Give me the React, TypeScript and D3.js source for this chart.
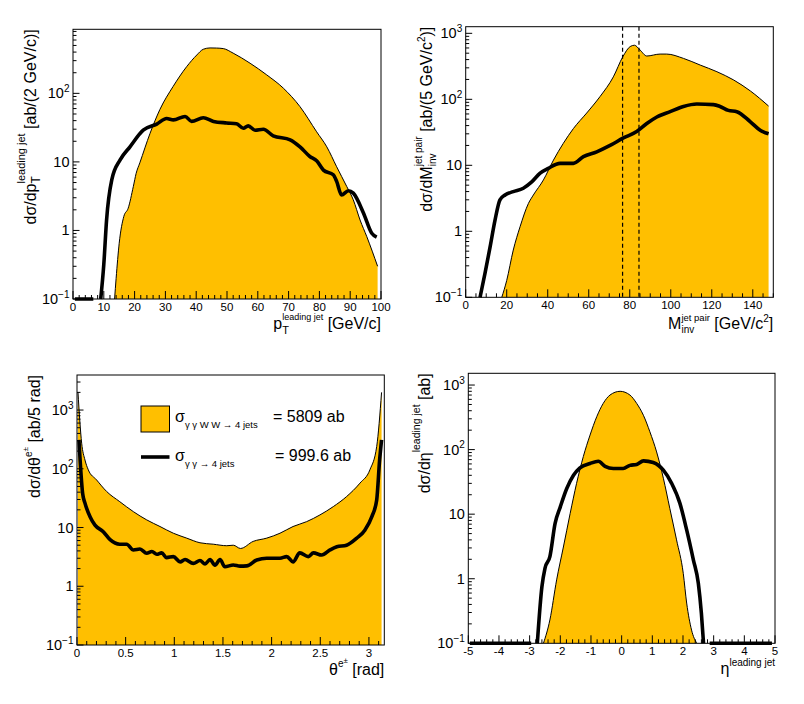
import React, { useEffect, useRef } from "react";
import * as d3 from "d3";

const FONT = "'Liberation Sans', Arial, Helvetica, sans-serif";
const FILL = "#ffbf00";

// ---------- Panel 1: leading jet pT ----------
const ptWWx = [13.5, 14, 15, 16.5, 17.9, 19.6, 20.5, 21.7, 25, 28.2, 32.5, 36.9, 40.2, 42.3, 44.5, 46.6, 48.8, 52, 57.5, 62.9, 68.3, 73.7, 79.1, 82.4, 85.6, 88.9, 91, 93.2, 95.4, 98.9];
const ptWWy = [0.1, 0.2, 0.65, 1.6, 2.1, 4.4, 6.8, 9.7, 26, 58, 126, 245, 363, 440, 460, 458, 450, 386, 275, 186, 119, 64, 27.5, 16.6, 8.5, 4.36, 2.8, 1.42, 0.81, 0.3];
const ptBGx = [0.6, 6.6, 7.7, 9.0, 10.0, 10.9, 12.6, 15.3, 18.5, 22.8, 27.2, 30.4, 32.6, 36.4, 38.5, 42.3, 45.6, 49.9, 53.1, 55.3, 56.9, 59.1, 61.8, 65, 70.5, 73.7, 76.9, 79.1, 81.3, 84.5, 85.6, 87.2, 89.4, 91, 94.3, 97, 98.6];
const ptBGy = [0.1, 0.1, null, 0.1, 0.32, 1.42, 5.5, 10.7, 16.6, 29, 35.6, 43, 41, 46, 39, 44, 39, 37, 36, 31, 33.6, 29, 30, 24, 21, 16.6, 12, 10.4, 7.6, 6.5, 5.2, 3.3, 3.8, 3.5, 1.8, 0.91, 0.8];
const ptXTicks = [0, 10, 20, 30, 40, 50, 60, 70, 80, 90, 100];

// ---------- Panel 2: jet pair invariant mass ----------
const mWWx = [17.6, 20, 23.2, 26.5, 30.6, 33, 37.9, 42.8, 47.6, 52.5, 59, 65.5, 72, 76.6, 80.2, 82.3, 85, 88.3, 94.8, 98, 106.2, 114.4, 122.5, 130.7, 138.8, 147.7];
const mWWy = [0.1, 0.18, 0.52, 1.17, 2.65, 3.55, 6, 12, 21.5, 36, 62, 110, 219, 441, 630, 660, 560, 453, 485, 485, 417, 330, 262, 196, 134, 79];
const mBGx = [7, 9.4, 11.9, 14.3, 16.7, 19.2, 23.2, 28.1, 32.2, 36.3, 40.3, 46, 52.5, 57.4, 63.9, 70.4, 76.9, 83.4, 88.3, 93.2, 99.7, 106.2, 112.7, 120.8, 124, 128.1, 132.2, 138.7, 143.6, 147.7];
const mBGy = [0.1, 0.23, 0.58, 1.48, 3, 3.55, 4, 4.5, 5.6, 7.6, 9, 10.7, 10.7, 13.5, 16, 20, 26, 32.5, 43, 54, 65, 78, 85, 83, 78, 68, 65, 46, 34, 30];
const mXTicks = [0, 20, 40, 60, 80, 100, 120, 140];
const mWindow = [76.5, 84.5];

// ---------- Panel 3: electron polar angle ----------
const thWWx = [0.01, 0.048, 0.082, 0.116, 0.2, 0.305, 0.44, 0.58, 0.716, 0.853, 0.99, 1.127, 1.264, 1.4, 1.539, 1.606, 1.68, 1.81, 1.95, 2.086, 2.22, 2.36, 2.497, 2.634, 2.77, 2.908, 3.01, 3.08, 3.13];
const thWWy = [2000, 273, 141, 96, 65, 41, 27.5, 18.6, 13.5, 10.4, 8, 6.6, 5.5, 5.2, 4.9, 5.0, 4.4, 5.8, 6.6, 8, 10.4, 12.6, 16.4, 22.7, 33.6, 57, 96, 240, 2000];
const thBGx = [0.02, 0.058, 0.082, 0.134, 0.185, 0.27, 0.34, 0.44, 0.51, 0.58, 0.647, 0.716, 0.77, 0.82, 0.87, 0.92, 0.99, 1.06, 1.11, 1.195, 1.264, 1.316, 1.367, 1.418, 1.47, 1.52, 1.606, 1.675, 1.744, 1.847, 1.95, 2.086, 2.155, 2.22, 2.29, 2.377, 2.43, 2.515, 2.6, 2.67, 2.77, 2.875, 2.96, 3.03, 3.08, 3.11, 3.13];
const thBGy = [310, 38, 26, 15.3, 11, 8.5, 6.2, 5.2, 5.2, 4.15, 4.3, 3.65, 3.9, 3.5, 3.7, 3.07, 3.2, 2.6, 2.85, 2.45, 2.75, 2.4, 2.85, 2.28, 2.85, 2.15, 2.3, 2.2, 2.22, 2.8, 3.0, 3.0, 3.2, 2.6, 3.7, 3.2, 3.7, 3.4, 4.15, 4.7, 5, 6.6, 9.1, 15.3, 29.5, 141, 310];
const thXTicks = [0, 0.5, 1, 1.5, 2, 2.5, 3];

// ---------- Panel 4: leading jet pseudorapidity ----------
const etaWWx = [-2.55, -2.34, -2.12, -1.9, -1.68, -1.47, -1.25, -1.03, -0.81, -0.6, -0.38, -0.05, 0.27, 0.49, 0.71, 0.92, 1.14, 1.36, 1.57, 1.79, 2.01, 2.12, 2.28, 2.45];
const etaWWy = [0.1, 0.23, 0.96, 3.1, 10.2, 30, 78, 168, 325, 520, 700, 800, 700, 520, 340, 189, 92, 36, 12.3, 4, 1.2, 0.42, 0.16, 0.1];
const etaBGx = [-4.95, -2.95, -2.85, -2.75, -2.6, -2.5, -2.34, -2.17, -2.0, -1.79, -1.57, -1.36, -1.03, -0.76, -0.54, -0.27, 0.05, 0.27, 0.49, 0.71, 1.03, 1.36, 1.63, 1.9, 2.12, 2.34, 2.5, 2.6, 2.67, 2.77, 2.87, 4.9];
const etaBGy = [0.1, 0.1, null, 0.1, 0.75, 1.45, 2.2, 7.2, 13, 25, 40, 52, 61, 66, 55, 51, 51, 57, 59, 67, 63, 48, 30, 14.7, 5.7, 1.95, 0.85, 0.29, 0.1, null, 0.1, 0.1];
const etaXTicks = [-5, -4, -3, -2, -1, 0, 1, 2, 3, 4, 5];

// ---------- Legend ----------
const legendWW = { label: "γ γ W W → 4 jets", value: "= 5809 ab" };
const legendBG = { label: "γ γ → 4 jets", value: "= 999.6 ab" };

type Seg = { t: string; s: number; dy?: number };
type Run = Seg | { sub: Seg; sup: Seg };

function rich(parent: any, x: number, y: number, runs: Run[], anchor: "start" | "end" | "middle", rot = 0) {
  const g = parent.append("g").attr("transform", `translate(${x},${y}) rotate(${rot})`);
  const inner = g.append("g");
  let cx = 0;
  const put = (seg: Seg) => {
    const t = inner
      .append("text")
      .attr("x", cx)
      .attr("y", seg.dy ?? 0)
      .attr("font-size", seg.s)
      .attr("font-family", FONT)
      .attr("fill", "#000")
      .style("white-space", "pre")
      .text(seg.t);
    return (t.node() as SVGTextElement).getComputedTextLength();
  };
  for (const r of runs) {
    if ("sub" in r) {
      const w1 = put(r.sub);
      const w2 = put(r.sup);
      cx += Math.max(w1, w2);
    } else cx += put(r);
  }
  const off = anchor === "end" ? -cx : anchor === "middle" ? -cx / 2 : 0;
  inner.attr("transform", `translate(${off},0)`);
}

type Panel = {
  id: string;
  frame: { x0: number; x1: number; y0: number; y1: number };
  xDomain: [number, number];
  yMax: number;
  wwX: number[];
  wwY: number[];
  bgX: number[];
  bgY: (number | null)[];
  xTicks: number[];
  xMinor: number;
  xTitle: Run[];
  xTitleY: number;
  yTitle: Run[];
  yTitleX: number;
  vlines?: number[];
};

const T = 16;

const panels: Panel[] = [
  {
    id: "pt",
    frame: { x0: 73, x1: 381, y0: 29.3, y1: 299 },
    xDomain: [0, 100],
    yMax: 860,
    wwX: ptWWx, wwY: ptWWy, bgX: ptBGx, bgY: ptBGy,
    xTicks: ptXTicks, xMinor: 2,
    xTitle: [{ t: "p", s: T }, { sub: { t: "T", s: 11, dy: 4.5 }, sup: { t: "leading jet", s: 9, dy: -9 } }, { t: " [GeV/c]", s: T }],
    xTitleY: 329,
    yTitle: [{ t: "dσ/dp", s: T }, { sub: { t: "T", s: 12, dy: 4 }, sup: { t: "leading jet", s: 11, dy: -11 } }, { t: " [ab/(2 GeV/c)]", s: T }],
    yTitleX: 36,
  },
  {
    id: "m",
    frame: { x0: 465.7, x1: 773.3, y0: 26.7, y1: 297.3 },
    xDomain: [0, 150],
    yMax: 1260,
    wwX: mWWx, wwY: mWWy, bgX: mBGx, bgY: mBGy,
    xTicks: mXTicks, xMinor: 5,
    xTitle: [{ t: "M", s: T }, { sub: { t: "inv", s: 10, dy: 4 }, sup: { t: "jet pair", s: 9.5, dy: -8 } }, { t: " [GeV/c", s: T }, { t: "2", s: 10, dy: -7 }, { t: "]", s: T }],
    xTitleY: 329,
    yTitle: [{ t: "dσ/dM", s: T }, { sub: { t: "inv", s: 10, dy: 4 }, sup: { t: "jet pair", s: 10, dy: -10 } }, { t: " [ab/(5 GeV/c", s: T }, { t: "2", s: 10, dy: -7 }, { t: ")]", s: T }],
    yTitleX: 432,
    vlines: mWindow,
  },
  {
    id: "th",
    frame: { x0: 77, x1: 384.3, y0: 375, y1: 645 },
    xDomain: [0, 3.158],
    yMax: 3950,
    wwX: thWWx, wwY: thWWy, bgX: thBGx, bgY: thBGy,
    xTicks: thXTicks, xMinor: 0.1,
    xTitle: [{ t: "θ", s: T }, { t: "e", s: 10, dy: -8 }, { t: "±", s: 8, dy: -12 }, { t: " [rad]", s: T }],
    xTitleY: 675,
    yTitle: [{ t: "dσ/dθ", s: T }, { t: "e", s: 10, dy: -8 }, { t: "±", s: 8, dy: -12 }, { t: " [ab/5 rad]", s: T }],
    yTitleX: 40,
  },
  {
    id: "eta",
    frame: { x0: 468.3, x1: 775, y0: 373.3, y1: 643.3 },
    xDomain: [-5, 5],
    yMax: 1520,
    wwX: etaWWx, wwY: etaWWy, bgX: etaBGx, bgY: etaBGy,
    xTicks: etaXTicks, xMinor: 0.2,
    xTitle: [{ t: "η", s: T }, { t: "leading jet", s: 10, dy: -8 }],
    xTitleY: 673.5,
    yTitle: [{ t: "dσ/dη", s: T }, { t: "leading jet", s: 10.5, dy: -10 }, { t: " [ab]", s: T }],
    yTitleX: 430,
  },
];

function drawPanel(svg: any, p: Panel) {
  const { x0, x1, y0, y1 } = p.frame;
  const x = d3.scaleLinear().domain(p.xDomain).range([x0, x1]);
  const y = d3.scaleLog().domain([0.1, p.yMax]).range([y1, y0]);
  const g = svg.append("g");
  const defs = g.append("defs");
  defs.append("clipPath").attr("id", `clip-${p.id}`).append("rect").attr("x", x0).attr("y", y0).attr("width", x1 - x0).attr("height", y1 - y0);
  defs.append("clipPath").attr("id", `clipl-${p.id}`).append("rect").attr("x", x0).attr("y", y0).attr("width", x1 - x0).attr("height", y1 - y0 + 3);

  const ww = p.wwX.map((v, i) => [v, p.wwY[i]] as [number, number]);
  const area = d3.area<[number, number]>().x((d) => x(d[0])).y0(y1).y1((d) => y(d[1])).curve(d3.curveMonotoneX);
  const line = d3.line<[number, number]>().x((d) => x(d[0])).y((d) => y(d[1])).curve(d3.curveMonotoneX);
  const cg = g.append("g").attr("clip-path", `url(#clip-${p.id})`);
  cg.append("path").attr("d", area(ww)).attr("fill", FILL).attr("stroke", "none");
  cg.append("path").attr("d", line(ww)).attr("fill", "none").attr("stroke", "#000").attr("stroke-width", 1);

  if (p.vlines) {
    p.vlines.forEach((v) => {
      g.append("line").attr("x1", x(v)).attr("x2", x(v)).attr("y1", y0).attr("y2", y1)
        .attr("stroke", "#000").attr("stroke-width", 1.2).attr("stroke-dasharray", "4,3");
    });
  }

  const bg = p.bgX.map((v, i) => [v, p.bgY[i]] as [number, number | null]);
  const bgLine = d3
    .line<[number, number | null]>()
    .defined((d) => d[1] !== null)
    .x((d) => x(d[0]))
    .y((d) => y(d[1] as number))
    .curve(d3.curveMonotoneX);
  g.append("g").attr("clip-path", `url(#clipl-${p.id})`)
    .append("path").attr("d", bgLine(bg)).attr("fill", "none").attr("stroke", "#000")
    .attr("stroke-width", 3.6).attr("stroke-linejoin", "round").attr("stroke-linecap", "butt");

  g.append("rect").attr("x", x0).attr("y", y0).attr("width", x1 - x0).attr("height", y1 - y0)
    .attr("fill", "none").attr("stroke", "#000").attr("stroke-width", 1);

  // x ticks
  const major = p.xTicks[1] - p.xTicks[0];
  const iStart = Math.ceil(p.xDomain[0] / p.xMinor - 1e-6);
  const iEnd = Math.floor(p.xDomain[1] / p.xMinor + 1e-6);
  for (let i = iStart; i <= iEnd; i++) {
    const v = Math.round(i * p.xMinor * 1000) / 1000;
    const isMajor = Math.abs(v / major - Math.round(v / major)) < 1e-6;
    const len = isMajor ? 8 : 4;
    g.append("line").attr("x1", x(v)).attr("x2", x(v)).attr("y1", y1).attr("y2", y1 - len).attr("stroke", "#000").attr("stroke-width", 1);
  }
  p.xTicks.forEach((v) => {
    g.append("text").attr("x", x(v)).attr("y", y1 + 12).attr("text-anchor", "middle")
      .attr("font-size", 11.5).attr("font-family", FONT).text(String(v));
  });

  // y ticks (log)
  const dMin = -1;
  const dMax = Math.floor(Math.log10(p.yMax));
  for (let d = dMin; d <= dMax; d++) {
    for (let k = 1; k <= 9; k++) {
      const v = k * Math.pow(10, d);
      if (v < 0.1 - 1e-9 || v > p.yMax) continue;
      const len = k === 1 ? 6.5 : 3.5;
      g.append("line").attr("x1", x0).attr("x2", x0 + len).attr("y1", y(v)).attr("y2", y(v)).attr("stroke", "#000").attr("stroke-width", 1);
    }
    const yy = y(Math.pow(10, d)) + 5;
    let runs: Run[];
    if (d === 0) runs = [{ t: "1", s: 14.5 }];
    else if (d === 1) runs = [{ t: "10", s: 14.5 }];
    else runs = [{ t: "10", s: 14.5 }, { t: d < 0 ? "−" + Math.abs(d) : String(d), s: 10, dy: -6.5 }];
    rich(g, x0 - 3.5, yy, runs, "end");
  }

  rich(g, x1, p.xTitleY, p.xTitle, "end");
  rich(g, p.yTitleX, y0, p.yTitle, "end", -90);
}

function drawLegend(svg: any) {
  const g = svg.append("g");
  g.append("rect").attr("x", 141).attr("y", 406).attr("width", 28.5).attr("height", 26).attr("fill", FILL).attr("stroke", "#000").attr("stroke-width", 1);
  rich(g, 175, 421.5, [{ t: "σ", s: T }, { t: legendWW.label, s: 9.5, dy: 6 }], "start");
  g.append("text").attr("x", 273).attr("y", 421.5).attr("font-size", T).attr("font-family", FONT).text(legendWW.value);

  g.append("line").attr("x1", 141).attr("x2", 169.5).attr("y1", 457).attr("y2", 457).attr("stroke", "#000").attr("stroke-width", 3.6);
  rich(g, 175, 461, [{ t: "σ", s: T }, { t: legendBG.label, s: 9.5, dy: 6 }], "start");
  g.append("text").attr("x", 275).attr("y", 461).attr("font-size", T).attr("font-family", FONT).text(legendBG.value);
}

export default function App() {
  const ref = useRef<SVGSVGElement | null>(null);
  useEffect(() => {
    const svg = d3.select(ref.current);
    svg.selectAll("*").remove();
    svg.append("rect").attr("x", 0).attr("y", 0).attr("width", 804).attr("height", 704).attr("fill", "#fff");
    panels.forEach((p) => drawPanel(svg, p));
    drawLegend(svg);
  }, []);
  return (
    <svg
      ref={ref}
      width={804}
      height={704}
      viewBox="0 0 804 704"
      style={{ position: "absolute", left: 0, top: 0, display: "block" }}
    />
  );
}
